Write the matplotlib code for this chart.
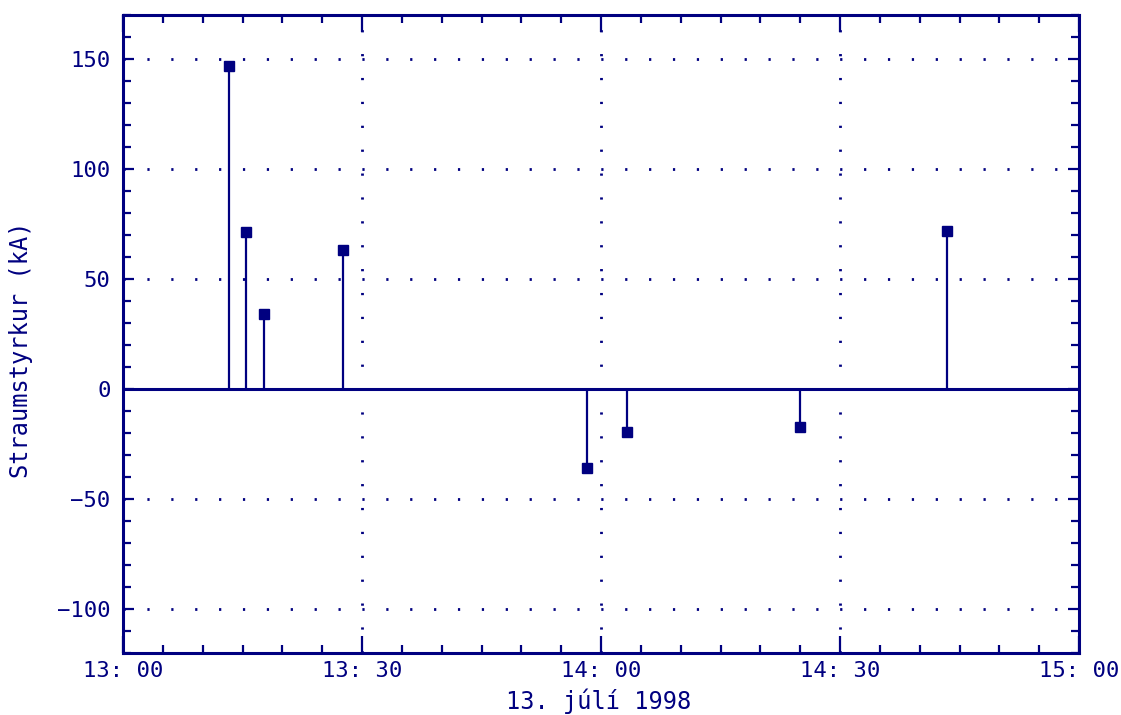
import pandas as pd
import matplotlib
matplotlib.use("Agg")
import matplotlib.pyplot as plt
import matplotlib.dates as mdates

# Lightning strikes, 13 July 1998
times = ["13:13:20", "13:15:24", "13:17:42", "13:27:36",
         "13:58:12", "14:03:18", "14:25:00", "14:43:24"]
current_ka = [147, 71.5, 34, 63, -35.8, -19.7, -17.4, 71.8]

navy = "#000080"
t = pd.to_datetime(["1998-07-13 " + s for s in times])

fig = plt.figure(figsize=(11.21, 7.15), dpi=100)
ax = fig.add_axes([123 / 1121, 62 / 715, 956 / 1121, 638 / 715])

# Zero line and stems
ax.axhline(0, color=navy, lw=2.2, zorder=2)
ax.vlines(t, 0, current_ka, color=navy, lw=1.6, zorder=3)
ax.plot(t, current_ka, "s", color=navy, ms=7, zorder=4)

ax.set_xlim(pd.Timestamp("1998-07-13 13:00"), pd.Timestamp("1998-07-13 15:00"))
ax.set_ylim(-120, 170)

ax.xaxis.set_major_locator(mdates.MinuteLocator(byminute=[0, 30]))
ax.xaxis.set_minor_locator(mdates.MinuteLocator(byminute=range(0, 60, 5)))
ax.xaxis.set_major_formatter(mdates.DateFormatter("%H: %M"))
ax.set_yticks([-100, -50, 0, 50, 100, 150])
ax.set_yticks(range(-120, 171, 10), minor=True)

ax.grid(True, which="major", color=navy, linestyle=(0, (0.8, 7.8)), lw=2)

for s in ax.spines.values():
    s.set_color(navy)
    s.set_linewidth(2.2)

ax.tick_params(which="both", direction="in", color=navy, width=1.6,
               top=True, right=True, labelcolor=navy, labelsize=16)
ax.tick_params(axis="x", which="major", length=12, pad=6)
ax.tick_params(axis="y", which="major", length=8, pad=9)
ax.tick_params(which="minor", length=6)

for lab in ax.get_xticklabels() + ax.get_yticklabels():
    lab.set_family("DejaVu Sans Mono")

ax.set_xlabel("13. júlí 1998", color=navy, fontsize=17,
              family="DejaVu Sans Mono")
ax.set_ylabel("Straumstyrkur (kA)", color=navy, fontsize=17,
              family="DejaVu Sans Mono")
ax.xaxis.set_label_coords(0.497, -0.056)
ax.yaxis.set_label_coords(-0.094, 0.476)

fig.savefig("out.png", dpi=100)
